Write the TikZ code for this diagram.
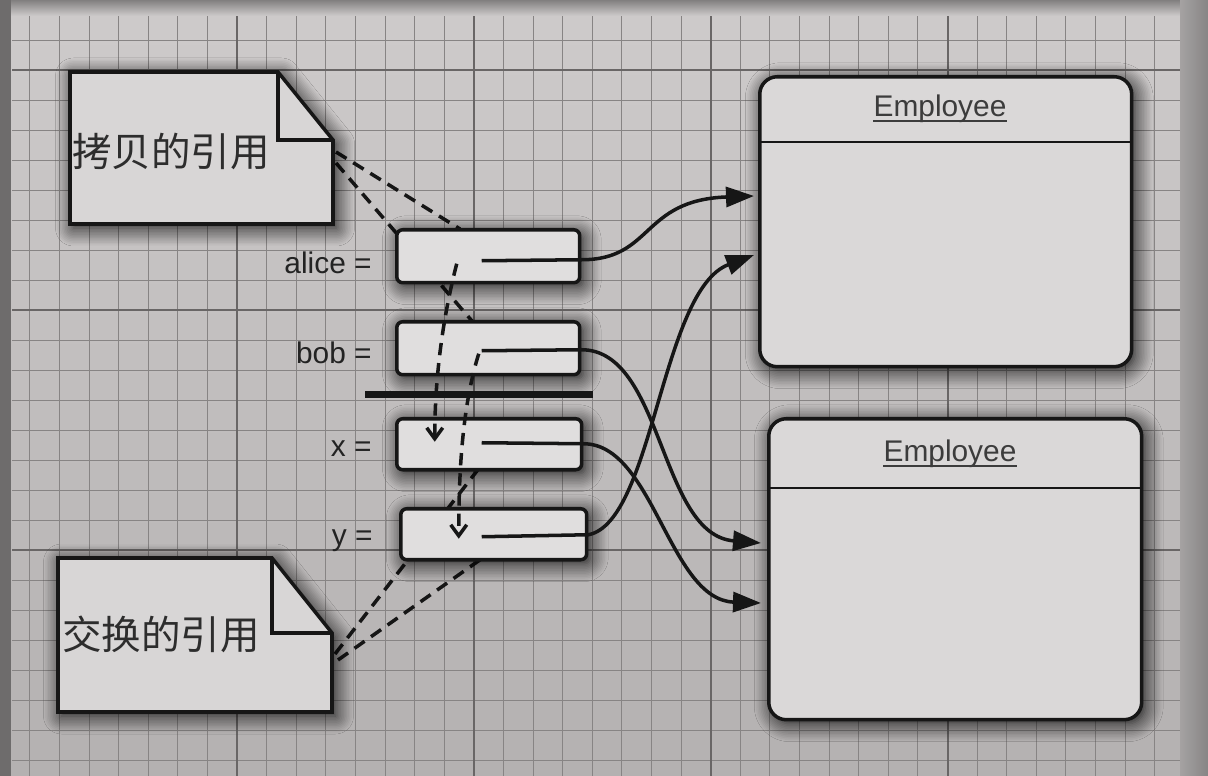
\documentclass[tikz,border=0pt]{standalone}
\usepackage{fontspec}
\setmainfont{Liberation Sans}
\newfontfamily\cjk{Noto Sans CJK SC}
\usetikzlibrary{arrows.meta,calc,shadows.blur}
\definecolor{paperT}{RGB}{206,203,203}
\definecolor{paperB}{RGB}{180,177,177}
\definecolor{gridc}{RGB}{135,132,132}
\definecolor{gridm}{RGB}{105,102,102}
\definecolor{boxfill}{RGB}{224,222,222}
\definecolor{empfill}{RGB}{218,216,216}
\definecolor{notefill}{RGB}{216,214,214}
\definecolor{ink}{RGB}{22,22,22}
\definecolor{lbl}{RGB}{35,35,35}
\definecolor{notetxt}{RGB}{45,45,45}
\definecolor{emptxt}{RGB}{60,60,60}
\definecolor{edgec}{RGB}{110,108,108}
\tikzset{
  sh/.style={blur shadow={shadow xshift=0.07cm, shadow yshift=-0.08cm, shadow blur radius=0.36cm, shadow opacity=95, shadow blur steps=12}},
  varbox/.style={draw=ink, line width=2pt, fill=boxfill, rounded corners=0.12cm, inner sep=0pt, anchor=north west, sh},
  empbox/.style={draw=ink, line width=2pt, fill=empfill, rounded corners=0.35cm, inner sep=0pt, anchor=north west, sh},
  notebox/.style={draw=ink, line width=2pt, fill=notefill, line join=miter, sh},
  notefold/.style={draw=ink, line width=2pt, line join=miter},
  notetext/.style={text=notetxt, font=\cjk\fontsize{22.5pt}{26pt}\selectfont, inner sep=0pt, anchor=west},
  varlabel/.style={text=lbl, font=\fontsize{17pt}{20pt}\selectfont, inner sep=0pt, anchor=base east},
  emplabel/.style={text=emptxt, font=\fontsize{17pt}{20pt}\selectfont, inner sep=0pt, anchor=base},
  ptr/.style={draw=ink, line width=2pt, -{Triangle[length=0.56cm,width=0.4cm]}},
  darr/.style={draw=ink, line width=2pt, dash pattern=on 7pt off 4.5pt, -{Straight Barb[length=0.22cm,width=0.32cm]}},
  dline/.style={draw=ink, line width=2pt, dash pattern=on 7pt off 4.5pt},
}
\begin{document}
\begin{tikzpicture}[x=0.02cm,y=-0.02cm]
\useasboundingbox (0,0) rectangle (1208,776);
% paper
\shade[top color=paperT, bottom color=paperB] (0,0) rectangle (1208,776);
\begin{scope}
  \clip (12,14) rectangle (1180,776);
  \foreach \i in {-8,...,32} \draw[gridc, line width=0.5pt] ({237+29.6*\i},0) -- ({237+29.6*\i},776);
  \foreach \j in {-11,...,16} \draw[gridc, line width=0.5pt] (0,{310+30*\j}) -- (1208,{310+30*\j});
  \foreach \i in {0,...,4} \draw[gridm, line width=1pt] ({237*(\i+1)},0) -- ({237*(\i+1)},776);
  \foreach \j in {-1,0,1} \draw[gridm, line width=1pt] (0,{310+240*\j}) -- (1208,{310+240*\j});
\end{scope}
% paper edges
\fill[edgec] (0,0) rectangle (11,776);
\shade[top color=edgec!80!paperT, bottom color=paperT] (11,0) rectangle (1180,16);
\shade[left color=paperT!80!black, right color=paperB!75!black] (1180,0) rectangle (1208,776);

% anchor coordinates on the notes
\coordinate (n1a) at (336,152);
\coordinate (n1b) at (336,163);
\coordinate (n2a) at (335,654);
\coordinate (n2b) at (338,660);

% dashed note lines (behind the boxes)
\draw[dline] (n1a) -- (460,229);
\draw[dline] (n1b) -- (472,321);
\draw[dline] (n2a) -- (480,467);
\draw[dline] (n2b) -- (484,557);

% notes
\draw[notebox] (70,72) -- (278,72) -- (333,140) -- (333,224) -- (70,224) -- cycle;
\draw[notefold] (278,72) -- (278,140) -- (333,140);
\node[notetext] (note1) at (72,152) {拷贝的引用};
\draw[notebox] (58,558) -- (272,558) -- (332,633) -- (332,712) -- (58,712) -- cycle;
\draw[notefold] (272,558) -- (272,633) -- (332,633);
\node[notetext] (note2) at (62,634) {交换的引用};

% variable boxes
\node[varbox, minimum width=3.66cm, minimum height=1.06cm] (alice) at (395,228) {};
\node[varbox, minimum width=3.66cm, minimum height=1.06cm] (bob) at (395,320) {};
\node[varbox, minimum width=3.70cm, minimum height=1.02cm] (x) at (395,417) {};
\node[varbox, minimum width=3.72cm, minimum height=1.02cm] (y) at (399,507) {};
\node[varlabel] (la) at (372,274) {alice =};
\node[varlabel] (lb) at (372,364) {bob =};
\node[varlabel] (lx) at (372,457) {x =};
\node[varlabel] (ly) at (373,546) {y =};
\draw[ink, line width=0.14cm] (365,395) -- (593,395);

% dashed arrows over boxes
\draw[darr] ($(alice.center)+(-31.5,7.5)$) .. controls +(-15,58) and +(0,-60) .. ($(x.center)+(-54.5,-2.5)$);
\draw[darr] ($(bob.center)+(-9.5,5.5)$) .. controls +(-15,48) and +(0,-77) .. ($(y.center)+(-35,4.5)$);

% employee boxes
\node[empbox, minimum width=7.44cm, minimum height=5.8cm] (emp1) at (758,75) {};
\draw[ink, line width=1.5pt] ($(emp1.north west)+(0,67)$) -- ($(emp1.north east)+(0,67)$);
\node[emplabel] (e1) at (940,117) {Employee};
\draw[emptxt, line width=1.2pt] ($(e1.base west)+(0,4)$) -- ($(e1.base east)+(0,4)$);
\node[empbox, minimum width=7.46cm, minimum height=6.02cm] (emp2) at (767,417) {};
\draw[ink, line width=1.5pt] ($(emp2.north west)+(0,71)$) -- ($(emp2.north east)+(0,71)$);
\node[emplabel] (e2) at (950,462) {Employee};
\draw[emptxt, line width=1.2pt] ($(e2.base west)+(0,4)$) -- ($(e2.base east)+(0,4)$);

% pointer tips
\coordinate (t1) at ($(emp1.north west)+(-4,121)$);
\coordinate (t2) at ($(emp1.north west)+(-4,180)$);
\coordinate (t3) at ($(emp2.north west)+(-6,126)$);
\coordinate (t4) at ($(emp2.north west)+(-6,186)$);

% pointers
\draw[ptr] ($(alice.center)+(-6.5,4.5)$) -- ($(alice.east)+(0,3.5)$) .. controls +(72,0) and +(-113,4) .. (t1);
\draw[ptr] ($(bob.center)+(-6.5,2.5)$) -- ($(bob.east)+(0,1.5)$) .. controls +(82,0) and +(-102,-8) .. (t3);
\draw[ptr] ($(x.center)+(-7.5,-1.5)$) -- ($(x.east)+(0,-0.5)$) .. controls +(70,0) and +(-92,-3) .. (t4);
\draw[ptr] ($(y.center)+(-12,2.5)$) -- ($(y.east)+(0,0.5)$) .. controls +(65,-13) and +(-93,35) .. (t2);
\end{tikzpicture}
\end{document}
